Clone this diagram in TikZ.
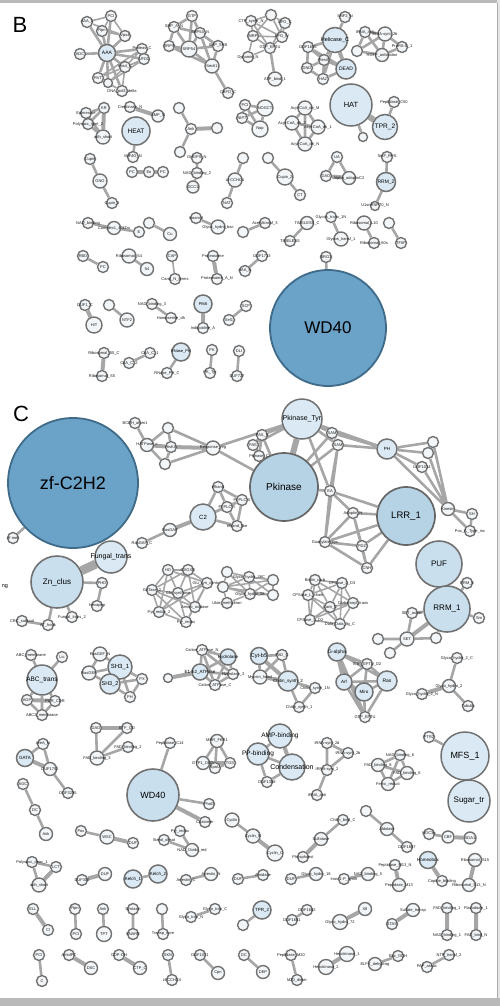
\documentclass[tikz,border=0pt]{standalone}
\usepackage{fontspec}
\setmainfont{Liberation Sans}
\pgfdeclarelayer{bg}
\pgfsetlayers{bg,main}
\definecolor{ndb}{HTML}{717171}
\definecolor{ndf}{HTML}{F3F6F8}
\definecolor{edg}{HTML}{A6A6A6}
\definecolor{lbf}{HTML}{DAE9F3}
\definecolor{mlf}{HTML}{C9DFEE}
\definecolor{mbf}{HTML}{B6D2E5}
\definecolor{dbf}{HTML}{6BA2C8}
\definecolor{dbd}{HTML}{3F6B89}
\tikzset{
 sml/.style={circle,draw=ndb,line width=1.4pt,fill=ndf,minimum size=11pt,inner sep=0pt},
 lbn/.style={circle,draw=ndb,line width=1.5pt,fill=lbf,inner sep=0pt},
 mln/.style={circle,draw=ndb,line width=1.6pt,fill=mlf,inner sep=0pt},
 mbn/.style={circle,draw=ndb!90!black,line width=1.7pt,fill=mbf,inner sep=0pt},
 dbn/.style={circle,draw=dbd,line width=1.8pt,fill=dbf,inner sep=0pt},
 lbl/.style={font=\fontsize{4}{4}\selectfont,inner sep=0pt,text=black!90},
 ed/.style={draw=edg,line width=2.6pt},
 edt/.style={draw=edg,line width=1.6pt},
 edk/.style={draw=edg,line width=4pt},
 edkk/.style={draw=edg,line width=6pt},
 panel/.style={font=\fontsize{22}{22}\selectfont,inner sep=0pt},
}
\newcommand\sn[4]{\node[sml,label={[lbl]center:#4}] (#1) at (#2,#3) {};}
\newcommand\sd[5]{\node[sml,minimum size=#4pt,label={[lbl]center:#5}] (#1) at (#2,#3) {};}
\newcommand\bn[7]{\node[#5,minimum size=#4pt,label={[font=\fontsize{#6}{#6}\selectfont,inner sep=0pt]center:#7}] (#1) at (#2,#3) {};}
\begin{document}
\begin{tikzpicture}[x=1pt,y=-1pt]
\useasboundingbox (0,0) rectangle (500,1006);
% frame
\fill[gray!55] (0,0) rectangle (500,3.5);
\fill[gray!20] (497,0) rectangle (500,1006);
\draw[gray!65,line width=1pt] (497,3) -- (497,998);
\fill[gray!55] (0,998) rectangle (500,1006);
% panel letters
\node[panel] (lB) at (20,25) {B};
\node[panel] (lC) at (21,414) {C};
% ================= PANEL B =================
\bn{a0}{107}{53}{17}{lbn}{5}{AAA}
\sn{a1}{87}{22}{AAA\_2}
\sn{a2}{111}{16}{PCI}
\sn{a3}{102}{31}{Rpn}
\sn{a4}{125}{36}{Vps4}
\sn{a5}{142}{49}{Proteas\_C}
\sn{a6}{144}{59}{UFD1}
\sn{a7}{125}{67}{Vps4\_C}
\sn{a8}{80}{54}{ADC}
\sn{a9}{98}{78}{RVT}
\sd{a10}{108}{83}{9}{}
\sn{a11}{122}{91}{DNA\_pol3\_delta}
\sn{s1}{192}{16}{GTP}
\sn{s2}{174}{27}{SRP\_A\_N}
\sn{s3}{200}{33}{SRP54\_N}
\sn{s4}{169}{46}{SRP9}
\sd{s5}{189}{49}{16}{SRP54}
\sn{s6}{218}{46}{SRP\_SPB}
\sd{s7}{212}{66}{14}{Sec61}
\sn{s8}{228}{93}{CBFD\_C}
\sn{t1}{251}{21}{CTP\_synth\_N}
\sn{t2}{253}{36}{MRP}
\sn{t3}{248}{57}{Dynamin\_N}
\sn{t5}{271}{15}{}
\sn{t6}{285}{23}{EFG\_C}
\sn{t7}{282}{37}{EFG\_IV}
\sn{t8}{270}{48}{GTP\_EFTU}
\sd{t9}{275}{79}{14}{ATP\_bind\_1}
\bn{h0}{335}{40}{25}{lbn}{5.5}{Helicase\_C}
\bn{h1}{346}{69}{20}{lbn}{5}{DEAD}
\sn{h2}{323}{79}{HA2}
\sn{h3}{308}{47}{DUF1605}
\sn{h4}{307}{68}{DND}
\sn{h5}{324}{60}{ResIII}
\sn{h6}{345}{17}{SNF2\_N}
\sn{r1}{365}{32}{tRNA\_anti}
\sd{r2}{385}{34}{14}{tRNA-synt\_2b}
\sn{r3}{402}{47}{ProRS-C\_1}
\sn{r4}{357}{51}{}
\sd{r5}{382}{55}{13}{HGTP\_anticodon}
\bn{H}{351}{105}{42}{lbn}{7.5}{HAT}
\bn{T}{385}{127}{25}{lbn}{6.5}{TPR\_2}
\sn{p50}{394}{102}{Peptidase\_C50}
\sd{hs}{363}{137}{9}{}
\sd{c1}{305}{108}{14}{Acyl-CoA\_dh\_M}
\sd{c2}{292}{123}{14}{Acyl-CoA\_dh\_2}
\sd{c3}{318}{127}{14}{Acyl-CoA\_dh\_1}
\sd{c4}{305}{144}{14}{Acyl-CoA\_dh\_N}
\sn{n1}{245}{105}{PCI}
\sd{n2}{265}{108}{16}{NOGCT}
\sn{n3}{242}{118}{NIP7}
\sd{n4}{260}{129}{16}{Nop}
\bn{He}{136}{131}{28}{lbn}{6.5}{HEAT}
\sn{k1}{104}{108}{KR}
\sn{k2}{86}{113}{Epimerase}
\sn{k3}{88}{124}{Polysacc\_synt\_2}
\sd{k4}{103}{137}{14}{adh\_short}
\sn{k5}{130}{107}{Creatinase\_N}
\sd{k6}{158}{116}{12}{AMP\_N}
\sn{k7}{133}{157}{MIF4G\_N}
\sn{x0}{191}{129}{Ank}
\sn{x1}{179}{108}{}
\sn{x2}{217}{128}{}
\sn{x3}{180}{152}{}
\sn{y1}{132}{172}{PC}
\sn{y2}{149}{172}{En}
\sn{y3}{163}{172}{PC}
\sn{g1}{90}{159}{Cupin}
\sd{g2}{100}{181}{14}{GNO}
\sn{g3}{112}{203}{Cupin\_3}
\sn{d1}{197}{158}{DHDPS\_N}
\sn{d2}{197}{173}{NAD\_binding\_2}
\sd{d3}{193}{187}{12}{DCC1}
\sn{z1}{243}{158}{}
\sd{z2}{235}{180}{14}{zf-CCHC4}
\sn{z3}{227}{203}{NAT}
\sn{u1}{268}{158}{}
\sd{u2}{285}{177}{16}{Cupin\_2}
\sn{u3}{300}{195}{CT}
\sn{v1}{337}{157}{UA}
\sn{v2}{326}{176}{DAO}
\sd{v3}{349}{178}{13}{Alpha\_adaptinC2}
\sn{w1}{387}{157}{SmF\_RPS}
\bn{w2}{386}{182}{19}{lbn}{5}{RRM\_2}
\sd{w3}{375}{206}{9}{U1snRNP70\_N}
\sn{e1}{88}{223}{NAD\_binding}
\sd{e2}{114}{228}{13}{Complex1\_49kDa}
\sn{e3}{139}{232}{E}
\sn{f1}{149}{223}{}
\sd{f2}{170}{234}{13}{Cu}
\sn{i1}{196}{218}{Isoamyl}
\sd{i2}{218}{227}{14}{Glyco\_hydro\_bac}
\sn{j1}{243}{232}{}
\sn{j2}{265}{223}{Acetyltransf\_3}
\sd{q1}{307}{223}{13}{TIMELESS\_C}
\sn{q2}{290}{241}{TIMELESS}
\sn{q3}{331}{217}{Glycos\_trans\_1N}
\sd{q4}{341}{239}{14}{Glycos\_transf\_1}
\sd{q5}{364}{223}{14}{Ribosomal\_L10}
\sn{q6}{374}{243}{Ribosomal\_60s}
\sn{q7}{389}{223}{}
\sn{q8}{401}{243}{TFIIF}
\sn{l1}{83}{256}{RBD}
\sn{l2}{103}{267}{PC}
\sd{l3}{129}{256}{14}{Ribosomal\_S4}
\sd{l4}{147}{269}{13}{S4}
\sn{l5}{172}{256}{CAP}
\sn{l6}{175}{279}{Carot\_N\_terms}
\sn{l7}{213}{256}{Proteasome}
\sn{l8}{217}{279}{Proteasome\_A\_N}
\sn{l9}{262}{256}{DUF1713}
\sn{l10}{245}{271}{AAA\_N}
\sn{bro}{326}{257}{BRO1}
\bn{WD}{328}{328}{116}{dbn}{17}{WD40}
\sn{m1}{85}{305}{DUF1\_C}
\sd{m2}{94}{325}{16}{HIT}
\sn{m3}{109}{305}{}
\sd{m4}{127}{320}{14}{NTF2}
\sn{m5}{152}{304}{NAD\_binding\_3}
\sn{m6}{171}{318}{Homoserine\_dh}
\bn{m7}{203}{304}{18}{lbn}{4}{PfkB}
\sn{m8}{203}{328}{Indigoidine\_A}
\sn{m9}{246}{306}{SCP}
\sn{m10}{229}{320}{Sel1}
\sn{o1}{104}{353}{Ribosomal\_S5\_C}
\sn{o2}{102}{376}{Ribosomal\_S5}
\sn{o3}{150}{353}{CoA\_C\_1}
\sn{o4}{129}{363}{CoA\_C\_2}
\bn{o5}{181}{352}{18}{lbn}{4}{RNase\_PH}
\sn{o6}{167}{373}{RNase\_PH\_C}
\sn{o7}{212}{350}{PK}
\sn{o8}{210}{373}{PK\_Tyr}
\sn{o9}{239}{351}{DLI}
\sn{o10}{237}{376}{DUF727}
% ================= PANEL C =================
\bn{ZF}{73}{483}{130}{dbn}{18}{zf-C2H2}
\sn{zs}{13}{538}{zf-met}
\sn{ca1}{135}{423}{BCDH\_atom1}
\sn{ca2}{168}{428}{}
\sd{ca3}{147}{445}{13}{HATPase\_c}
\sn{ca4}{171}{447}{HisKA}
\sn{ca5}{165}{464}{}
\sd{ca6}{213}{448}{14}{Response\_reg}
\bn{PT}{302}{419}{40}{lbn}{7}{Pkinase\_Tyr}
\bn{PK}{284}{487}{68}{mbn}{10}{Pkinase}
\sn{pa}{262}{435}{PAS\_9}
\sn{pb}{253}{445}{PAS}
\sn{pc}{259}{456}{Pkinase\_C}
\sn{sa}{332}{433}{SAM}
\sn{sb}{338}{445}{SAM}
\bn{PH}{387}{449}{20}{lbn}{4.5}{PH}
\sn{ph1}{433}{442}{}
\sn{ph2}{428}{453}{}
\sn{ph3}{422}{467}{DUF1014}
\sd{ph4}{448}{509}{13}{Kinesin}
\sn{ph5}{472}{514}{SH}
\sn{ph6}{470}{531}{Pox\_A\_Type\_inc}
\sn{ea}{330}{491}{EA}
\sn{ad}{353}{513}{Adaptin\_N}
\sn{gc}{325}{542}{Guanylate\_cyc}
\sn{pd}{362}{546}{PDZ}
\sn{cb}{367}{568}{CNH}
\bn{LRR}{406}{516}{58}{mbn}{9.5}{LRR\_1}
\bn{PUF}{439}{564}{46}{mln}{8}{PUF}
\bn{RRM}{447}{609}{46}{mln}{8}{RRM\_1}
\sn{rr1}{467}{583}{RRM\_6}
\sn{rr2}{479}{618}{Sm}
\sn{sa1}{412}{613}{SET\_assoc}
\sd{SET}{407}{639}{14}{SET}
\sn{se2}{436}{638}{}
\sn{se3}{378}{639}{}
\sn{se4}{390}{653}{}
\bn{C2}{203}{517}{26}{lbn}{6}{C2}
\sd{rg}{170}{530}{13}{RasGAP}
\sn{rgc}{142}{543}{RasGAP\_C}
\sn{ef}{218}{487}{efhand}
\sn{px}{242}{500}{PI-PLC-X}
\sn{py}{227}{507}{PI-PLC-Y}
\sn{efl}{237}{526}{efhand\_like}
\bn{FT}{111}{557}{32}{lbn}{7}{Fungal\_trans}
\bn{ZN}{57}{582}{52}{mln}{8}{Zn\_clus}
\node[font=\fontsize{5.5}{5.5}\selectfont,inner sep=0pt] (ngt) at (5,587) {ng};
\sn{zn1}{102}{583}{PHD}
\sn{zn2}{97}{606}{Hexapep}
\sn{zn3}{72}{617}{Fungal\_trans\_2}
\sn{zn4}{48}{625}{AT\_hook}
\sn{zn5}{22}{621}{CRC\_subunit}
\sn{gl1}{168}{570}{HO}
\sn{gl2}{188}{570}{GXGXG}
\sn{gl3}{207}{583}{Glu\_syn\_central}
\sn{gl4}{152}{590}{GATase\_2}
\sn{gl5}{178}{593}{Glu\_synthase}
\sn{gl6}{195}{607}{Amino\_oxidase}
\sn{gl7}{159}{612}{Pyr\_redox\_2}
\sn{gl8}{186}{622}{Pyr\_redox}
\sn{mn1}{227}{572}{}
\sn{mn2}{249}{577}{Glyco\_hydro\_38C}
\sn{mn3}{273}{580}{}
\sn{mn4}{223}{587}{}
\sn{mn5}{250}{594}{Glyco\_hydro\_38}
\sn{mn6}{273}{595}{}
\sn{mn7}{227}{603}{Ubie\_methyltran}
\sn{cp1}{315}{580}{Biotin\_carb}
\sn{cp2}{342}{583}{CPSase\_L\_D3}
\sn{cp3}{308}{595}{CPSase\_L\_chain}
\sn{cp4}{330}{607}{Carb\_C}
\sn{cp5}{353}{603}{Carbamoyl\_trans}
\sn{cp6}{310}{620}{CPSase\_L\_D2}
\sn{cp7}{340}{624}{Dala\_Dala\_lig\_C}
\bn{AB}{42}{680}{30}{lbn}{6.5}{ABC\_trans}
\sn{ab1}{31}{655}{ABC\_membrane}
\sn{ab2}{62}{657}{Lic}
\sn{ab3}{27}{700}{AGP}
\sn{ab4}{55}{701}{PDR\_CDR}
\sn{ab5}{42}{715}{ABC2\_membrane}
\sd{sh1}{100}{654}{14}{RasGEF\_N}
\sd{sh2}{89}{673}{14}{RasGEF}
\bn{SH31}{120}{667}{24}{lbn}{6}{SH3\_1}
\bn{SH32}{110}{684}{20}{lbn}{5.5}{SH3\_2}
\sn{sh5}{142}{679}{PX}
\sn{sh6}{130}{697}{PH}
\sn{cat1}{202}{650}{Cation\_ATPase\_N}
\bn{cat2}{228}{657}{16}{lbn}{4.5}{Hydrolase}
\bn{cat3}{200}{672}{16}{lbn}{4.5}{E1-E2\_ATPase}
\sn{cat4}{233}{674}{Hydrolase\_3}
\sn{cat5}{215}{685}{Cation\_ATPase\_C}
\sd{cat6}{168}{678}{9}{}
\bn{cy1}{259}{656}{17}{lbn}{5.5}{Cyt-b5}
\sn{cy2}{282}{655}{FAD\_C}
\sd{cy3}{260}{677}{14}{Myosin\_head}
\bn{cy4}{288}{681}{20}{lbn}{4.5}{Chitin\_synth\_2}
\sn{cy5}{315}{688}{Chitin\_synth\_1N}
\sn{cy6}{299}{707}{Chitin\_synth\_1}
\bn{ga}{337}{652}{18}{lbn}{5}{G-alpha}
\sn{gt2}{367}{664}{GTP\_EFTU\_D2}
\bn{arf}{344}{682}{16}{lbn}{4.5}{Arf}
\bn{miro}{364}{692}{18}{lbn}{4.5}{Miro}
\bn{ras}{387}{681}{20}{lbn}{5}{Ras}
\sn{gt}{365}{717}{GTP\_EFTU}
\sn{gh1}{457}{658}{Glyco\_hydro\_2\_C}
\sd{gh2}{449}{686}{13}{Glyco\_hydro\_2}
\sn{gh3}{422}{694}{Glyco\_hydro\_2\_N}
\sn{gh4}{468}{706}{Tubulin}
\bn{amp}{280}{736}{24}{lbn}{6.5}{AMP-binding}
\bn{pp}{258}{754}{22}{lbn}{6.5}{PP-binding}
\bn{cond}{292}{767}{26}{lbn}{7}{Condensation}
\sn{du}{267}{782}{DUF1388}
\sn{tr1}{327}{743}{tRNA-synt\_2d}
\sn{tr2}{348}{753}{tRNA-synt\_2b}
\sn{tr3}{327}{770}{tRNA-synt\_2}
\sn{tr4}{317}{795}{tRNA\_anti}
\sn{nb1}{400}{755}{NAD\_binding\_6}
\sd{nb2}{378}{765}{13}{FAD\_binding\_8}
\sd{nb3}{407}{773}{13}{FAD\_binding\_6}
\sd{nb4}{388}{784}{13}{Ferric\_reduct}
\sn{ptr}{429}{737}{PTR2}
\bn{MF}{465}{756}{48}{lbn}{9}{MFS\_1}
\bn{SU}{469}{801}{42}{lbn}{8}{Sugar\_tr}
\sn{fa1}{96}{728}{DAO}
\sn{fa2}{127}{728}{ETF\_QO}
\sn{fa3}{128}{747}{FAD\_binding\_2}
\sd{fa4}{97}{758}{14}{FAD\_binding\_3}
\bn{W2}{153}{795}{52}{mln}{9}{WD40}
\sn{pc14}{170}{743}{Peptidase\_C14}
\sn{wd1}{209}{804}{PhoD}
\sn{wd2}{205}{822}{Coatomer}
\sd{mr1}{217}{741}{13}{MHR\_FKR1}
\sd{mr2}{203}{763}{13}{GTP1\_OBG}
\sn{mr3}{230}{763}{TGS}
\sn{mr4}{215}{768}{SpoU}
\bn{gata}{25}{758}{17}{lbn}{4.5}{GATA}
\sn{gta1}{43}{744}{AreA\_N}
\sd{gta2}{50}{769}{13}{DUF1752}
\sn{gta3}{68}{793}{DUF3295}
\sn{k8}{23}{784}{AGC}
\sn{k9}{35}{810}{DC}
\sd{k10}{46}{834}{13}{Ank}
\sn{wa}{81}{831}{Pox}
\sd{wsc}{107}{837}{14}{WSC}
\sn{wb}{133}{843}{DUF}
\sn{st1}{164}{840}{Sterol\_desat}
\sn{st2}{180}{831}{Pyr\_redox}
\sd{st3}{192}{850}{13}{NAD\_Oxido\_red}
\sd{cyc1}{232}{820}{14}{Cyclin}
\sd{cyc2}{253}{836}{14}{Cyclin\_N}
\sd{cyc3}{275}{853}{16}{Cyclin\_C}
\sn{ch1}{343}{820}{Chitin\_bind\_C}
\sd{ch2}{321}{839}{13}{Sulfatase}
\sn{ch3}{303}{857}{Phosphoest}
\sn{an1}{366}{811}{}
\sd{an2}{387}{829}{13}{Aldolase}
\sn{an3}{407}{847}{DUF1887}
\sn{tc1}{429}{834}{NOC3p}
\sd{tc2}{448}{837}{12}{CBF}
\sd{tc3}{470}{838}{12}{SDA1}
\bn{hb}{428}{860}{17}{lbn}{4.5}{Homeobox}
\sn{hb2}{442}{881}{Copine\_binding}
\sn{pm1}{395}{865}{Peptidase\_M13\_N}
\sd{pm2}{399}{885}{13}{Peptidase\_M13}
\sd{rs1}{475}{860}{13}{Ribosomal\_S15}
\sd{rs2}{469}{885}{13}{Ribosomal\_S13\_N}
\sn{po1}{32}{862}{Polysacc\_deac\_1}
\sn{po2}{56}{867}{LCT}
\sd{po3}{39}{885}{14}{adh\_short}
\sn{du1}{82}{880}{DUF300}
\sd{du2}{105}{874}{13}{DUF}
\bn{ke1}{133}{879}{18}{lbn}{4.5}{Kelch\_1}
\bn{ke2}{158}{874}{18}{lbn}{4.5}{Kelch\_2}
\sn{ar1}{186}{880}{Arrestin\_C}
\sd{ar2}{211}{874}{13}{Arrestin\_N}
\sn{ga1}{238}{879}{DUF}
\sn{ga2}{263}{875}{Amidase}
\sn{g18a}{291}{879}{DUF}
\sd{g18b}{316}{874}{13}{Glyco\_hydro\_18}
\sn{in1}{344}{879}{Inos-1-P\_synth}
\sd{in2}{368}{874}{13}{NAD\_binding\_5}
\sn{p1a}{33}{909}{ELL}
\sn{p1b}{48}{930}{Cl}
\sn{p2a}{75}{909}{Rpn}
\sn{p2b}{76}{934}{PCI}
\sn{p3a}{103}{909}{Ank}
\sd{p3b}{104}{934}{15}{TPT}
\sn{p4a}{133}{909}{Syntaxin}
\sn{p4b}{133}{934}{SNARE}
\sn{p5a}{162}{909}{}
\sn{p5b}{163}{934}{Transp\_core}
\sn{gg1}{191}{917}{Glyco\_tran\_N}
\sn{gg2}{215}{909}{Glyco\_tran\_C}
\sn{tp0}{243}{925}{}
\bn{TPR2C}{262}{910}{18}{lbn}{4.5}{TPR\_2}
\sn{dd1}{292}{920}{DUF1681}
\sn{dd2}{307}{910}{DUF1682}
\sd{gy1}{340}{922}{15}{Glyco\_hydro\_72}
\sd{gy2}{365}{909}{13}{X8}
\sn{sf1}{392}{924}{STAS}
\sd{sf2}{413}{910}{13}{Sulfate\_transp}
\sn{fb1}{447}{908}{FAD\_binding\_1}
\sn{fb2}{447}{935}{NAD\_binding\_1}
\sn{fb3}{476}{908}{Flavodoxin\_1}
\sn{fb4}{476}{935}{FAD\_bind\_N}
\sn{r1a}{39}{955}{PCI}
\sn{r1b}{42}{981}{C}
\sn{r2a}{69}{955}{AmidPC}
\sd{r2b}{91}{968}{13}{DSC}
\sn{r3a}{119}{955}{CDP-OH}
\sd{r3b}{140}{968}{13}{CTP\_C}
\sn{r4a}{168}{955}{SKN}
\sn{r4b}{172}{980}{zf-CCHC4}
\sn{r5a}{200}{955}{DUF1071}
\sd{r5b}{218}{973}{13}{Cpn}
\sn{r6a}{244}{955}{DC}
\sd{r6b}{263}{972}{13}{DEP}
\sn{pmz1}{291}{955}{Peptidase\_M20}
\sn{pmz2}{297}{980}{M20\_dimer}
\sd{hx1}{347}{954}{15}{Hexokinase\_1}
\sd{hx2}{326}{967}{15}{Hexokinase\_2}
\sd{el1}{375}{964}{13}{ELFV\_dehydrog}
\sn{el2}{398}{956}{Bac\_GDH}
\sn{nt1}{449}{955}{NTP\_transf\_2}
\sn{nt2}{427}{967}{PAP\_assoc}
% ================= EDGES =================
\begin{pgfonlayer}{bg}
% B
\path[ed] (a0)--(a1) (a0)--(a2) (a0)--(a3) (a0)--(a4) (a0)--(a5) (a0)--(a6) (a0)--(a7) (a0)--(a8) (a0)--(a9) (a0)--(a10) (a0)--(a11);
\path[edt] (a1)--(a2) (a1)--(a4) (a2)--(a4) (a3)--(a4) (a2)--(a3) (a7)--(a5) (a7)--(a6) (a7)--(a9) (a7)--(a10) (a7)--(a11) (a5)--(a9) (a6)--(a10) (a9)--(a11) (a10)--(a11) (a5)--(a6);
\path[ed] (s1)--(s2) (s1)--(s3) (s1)--(s5) (s2)--(s3) (s2)--(s4) (s2)--(s5) (s3)--(s5) (s3)--(s6) (s4)--(s5) (s5)--(s6) (s5)--(s7) (s6)--(s7) (s3)--(s7) (s4)--(s7) (s7)--(s8);
\path[edt] (t1)--(t2) (t1)--(t5) (t1)--(t7) (t2)--(t5) (t2)--(t7) (t2)--(t8) (t2)--(t3) (t3)--(t8) (t5)--(t6) (t5)--(t7) (t6)--(t7) (t7)--(t8) (t6)--(t8) (t1)--(t8);
\path[ed] (t8)--(t9);
\path[ed] (h0)--(h6) (h0)--(h3) (h0)--(h5) (h0)--(h2) (h1)--(h5) (h1)--(h2) (h1)--(h3) (h3)--(h5) (h4)--(h5) (h2)--(h5) (h4)--(h2) (h3)--(h4);
\path[edk] (h0)--(h1);
\path[ed] (r1)--(r2) (r1)--(r4) (r2)--(r3) (r2)--(r5) (r4)--(r5) (r3)--(r5) (r1)--(r5) (r2)--(r4);
\path[edkk] (H)--(T);
\path[ed] (T)--(p50) (H)--(hs);
\path[ed] (c1)--(c2) (c1)--(c3) (c1)--(c4) (c2)--(c3) (c2)--(c4) (c3)--(c4);
\path[ed] (n1)--(n2) (n1)--(n3) (n1)--(n4) (n2)--(n3) (n2)--(n4) (n3)--(n4);
\path[ed] (k1)--(k2) (k1)--(k3) (k2)--(k4) (k3)--(k4) (k2)--(k3) (He)--(k7);
\path[edk] (k1)--(k4) (k5)--(k6);
\path[ed] (x0)--(x1) (x0)--(x3) (g1)--(g2) (g2)--(g3) (d1)--(d2) (d2)--(d3) (z1)--(z2) (z2)--(z3) (u1)--(u2) (u2)--(u3) (v1)--(v2) (v1)--(v3) (w1)--(w2) (w2)--(w3);
\path[edk] (x0)--(x2) (y1)--(y2) (y2)--(y3) (v2)--(v3);
\path[ed] (e1)--(e2) (e2)--(e3) (f1)--(f2) (i1)--(i2) (j1)--(j2) (q1)--(q2) (q3)--(q4) (q5)--(q6) (q7)--(q8) (l1)--(l2) (l3)--(l4) (l9)--(l10) (bro)--(WD) (m3)--(m4) (m5)--(m6) (m9)--(m10) (o3)--(o4) (o5)--(o6) (o7)--(o8) (o9)--(o10);
\path[edt] (l5)--(l6);
\path[edk] (l7)--(l8) (m1)--(m2) (m7)--(m8) (o1)--(o2);
% C
\path[ed] (ZF)--(zs);
\path[ed] (ca1)--(ca3) (ca3)--(ca2) (ca2)--(ca4) (ca3)--(ca5) (ca5)--(ca4) (ca2)--(ca6) (ca5)--(ca6) (ca6)--(PT) (ca6)--(PK);
\path[edk] (ca3)--(ca4) (ca4)--(ca6);
\path[edkk] (PT)--(PK);
\path[ed] (PT)--(pa) (PT)--(pb) (pa)--(pb) (pb)--(pc) (pa)--(pc) (PK)--(pa) (PK)--(pb) (PK)--(pc) (PT)--(sa) (PT)--(sb) (sa)--(sb) (sa)--(PH) (sb)--(PH) (PT)--(PH) (PK)--(sa) (PK)--(sb) (PK)--(ea) (PT)--(ea) (sb)--(ea) (ea)--(LRR) (ea)--(gc) (ea)--(ad) (sb)--(gc);
\path[ed] (ad)--(gc) (ad)--(pd) (ad)--(LRR) (gc)--(LRR) (gc)--(pd) (gc)--(cb) (pd)--(LRR) (cb)--(LRR) (pd)--(cb) (ad)--(cb);
\path[ed] (PH)--(ph1) (PH)--(ph2) (PH)--(ph3) (PH)--(ph4) (ph1)--(ph2) (ph1)--(ph4) (ph2)--(ph4) (ph3)--(ph4) (ph4)--(ph5) (ph4)--(ph6) (ph5)--(ph6);
\path[ed] (rr1)--(RRM) (rr2)--(RRM) (sa1)--(RRM) (SET)--(se2) (se2)--(RRM) (SET)--(se3) (SET)--(se4) (SET)--(sa1);
\path[edk] (SET)--(RRM);
\path[edk] (C2)--(rg);
\path[ed] (rg)--(rgc) (C2)--(ef) (C2)--(py) (C2)--(efl) (ef)--(px) (ef)--(py) (px)--(py) (px)--(efl) (py)--(efl) (C2)--(px);
\path[draw=edg,line width=9pt] (ZN)--(FT);
\path[ed] (ZN)--(zn1) (zn1)--(zn2) (ZN)--(zn3) (ZN)--(zn4) (zn5)--(zn4);
\path[edt] (gl1)--(gl2) (gl1)--(gl4) (gl1)--(gl5) (gl1)--(gl3) (gl2)--(gl3) (gl2)--(gl5) (gl2)--(gl4) (gl3)--(gl5) (gl3)--(gl6) (gl4)--(gl5) (gl4)--(gl7) (gl5)--(gl6) (gl5)--(gl7) (gl5)--(gl8) (gl6)--(gl8) (gl7)--(gl8) (gl4)--(gl6) (gl3)--(gl7) (gl2)--(gl6) (gl1)--(gl7) (gl4)--(gl8) (gl3)--(gl8);
\path[edt] (mn1)--(mn2) (mn1)--(mn4) (mn1)--(mn5) (mn2)--(mn3) (mn2)--(mn5) (mn2)--(mn6) (mn2)--(mn4) (mn3)--(mn5) (mn3)--(mn6) (mn4)--(mn5) (mn5)--(mn6) (mn3)--(mn4) (mn4)--(mn6) (mn5)--(mn7) (mn4)--(mn7);
\path[edt] (cp1)--(cp2) (cp1)--(cp3) (cp1)--(cp4) (cp1)--(cp5) (cp2)--(cp4) (cp2)--(cp5) (cp3)--(cp4) (cp3)--(cp6) (cp4)--(cp5) (cp4)--(cp6) (cp4)--(cp7) (cp5)--(cp7) (cp6)--(cp7) (cp3)--(cp7) (cp2)--(cp3) (cp1)--(cp6) (cp2)--(cp7) (cp5)--(cp6);
\path[ed] (AB)--(ab1) (AB)--(ab2) (AB)--(ab3) (AB)--(ab4) (AB)--(ab5) (ab3)--(ab5) (ab4)--(ab5);
\path[edk] (ab3)--(ab4);
\path[ed] (sh1)--(sh2) (sh1)--(SH31) (sh2)--(SH32) (sh2)--(SH31) (SH31)--(SH32) (SH31)--(sh5) (SH32)--(sh6) (sh5)--(sh6) (SH32)--(sh5) (SH31)--(sh6);
\path[ed] (cat1)--(cat2) (cat1)--(cat3) (cat3)--(cat2) (cat3)--(cat4) (cat3)--(cat5) (cat2)--(cat5) (cat4)--(cat5) (cat1)--(cat5) (cat2)--(cat4) (cat1)--(cat4);
\path[edk] (cat6)--(cat3);
\path[ed] (cy1)--(cy2) (cy2)--(cy4) (cy2)--(cy3) (cy4)--(cy5) (cy4)--(cy6) (cy5)--(cy6) (cy1)--(cy3);
\path[edk] (cy1)--(cy4) (cy3)--(cy4);
\path[ed] (ga)--(gt2) (arf)--(ras) (arf)--(miro) (arf)--(gt) (miro)--(ras) (miro)--(gt) (ras)--(gt) (gt2)--(ras) (gt2)--(miro) (gt2)--(arf) (ga)--(ras);
\path[edk] (ga)--(arf) (ga)--(gt);
\path[ed] (gh1)--(gh2) (gh2)--(gh4);
\path[edk] (gh2)--(gh3);
\path[ed] (amp)--(pp) (pp)--(cond) (pp)--(du) (cond)--(du);
\path[edk] (amp)--(cond);
\path[ed] (tr1)--(tr3) (tr2)--(tr3) (tr3)--(tr4) (tr1)--(tr2);
\path[ed] (nb1)--(nb2) (nb1)--(nb3) (nb2)--(nb3) (nb2)--(nb4) (nb3)--(nb4) (nb1)--(nb4);
\path[ed] (ptr)--(MF);
\path[draw=edg,line width=8pt] (MF)--(SU);
\path[ed] (fa1)--(fa4) (fa2)--(fa4) (fa3)--(fa4);
\path[edk] (fa1)--(fa2);
\path[ed] (W2)--(pc14) (W2)--(wd1);
\path[edk] (W2)--(wd2);
\path[ed] (mr1)--(mr2) (mr1)--(mr3) (mr1)--(mr4) (mr2)--(mr4) (mr3)--(mr4);
\path[edk] (mr2)--(mr3);
\path[ed] (gata)--(gta1) (gta1)--(gta2) (gta2)--(gta3);
\path[edk] (gata)--(gta2);
\path[ed] (k8)--(k9) (k9)--(k10) (wa)--(wsc) (st1)--(st3) (st2)--(st3) (cyc1)--(cyc2) (ch1)--(ch2) (an1)--(an2) (an2)--(an3) (tc1)--(tc2);
\path[edk] (wsc)--(wb) (cyc2)--(cyc3) (ch2)--(ch3) (tc2)--(tc3) (hb)--(hb2) (pm1)--(pm2) (rs1)--(rs2);
\path[ed] (po1)--(po2) (po1)--(po3) (ke1)--(ke2) (ar1)--(ar2) (ga1)--(ga2) (g18a)--(g18b) (in1)--(in2);
\path[edk] (po2)--(po3) (du1)--(du2);
\path[ed] (p2a)--(p2b) (p3a)--(p3b) (p4a)--(p4b) (p5a)--(p5b) (gg1)--(gg2) (tp0)--(TPR2C) (dd1)--(dd2) (r1a)--(r1b) (r4a)--(r4b) (r5a)--(r5b) (r6a)--(r6b) (pmz1)--(pmz2) (el1)--(el2) (nt1)--(nt2);
\path[edk] (p1a)--(p1b) (gy1)--(gy2) (sf1)--(sf2) (fb1)--(fb2) (fb3)--(fb4) (r2a)--(r2b) (r3a)--(r3b) (hx1)--(hx2);
\end{pgfonlayer}
\end{tikzpicture}
\end{document}
